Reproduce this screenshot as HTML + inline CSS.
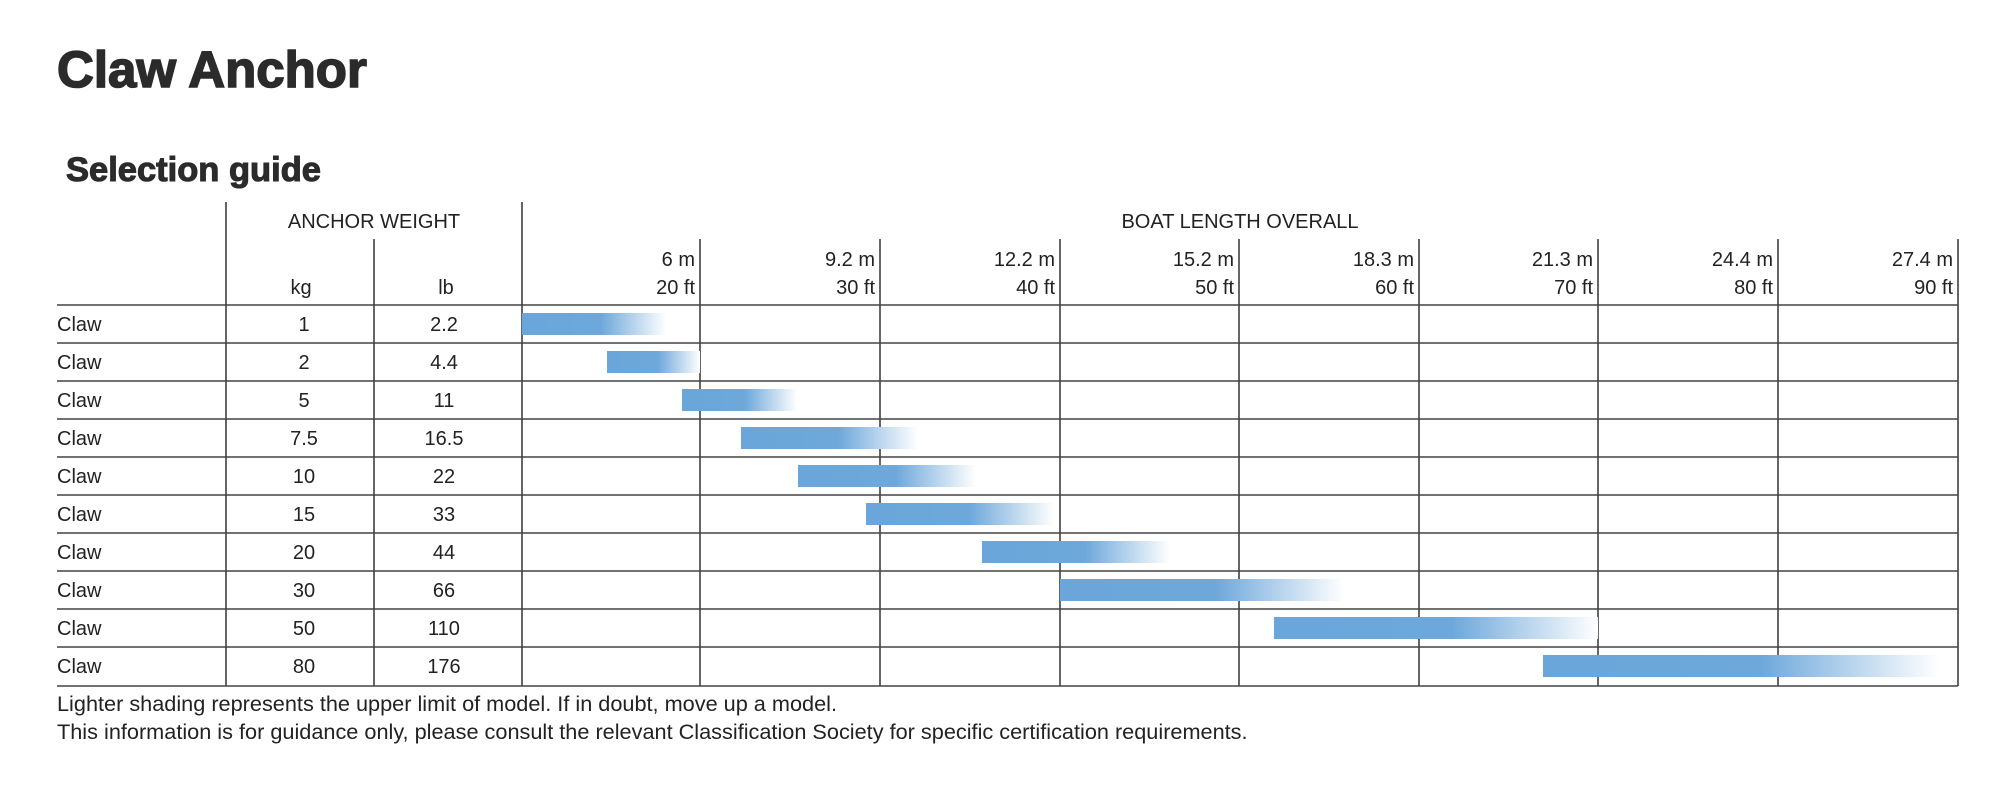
<!DOCTYPE html>
<html><head><meta charset="utf-8"><style>
html,body{margin:0;padding:0;background:#fff;}
svg{display:block;}
text{font-family:"Liberation Sans",Arial,sans-serif;fill:#222;}
</style></head><body>
<svg width="2000" height="799" xmlns="http://www.w3.org/2000/svg">
<defs>
<linearGradient id="g" x1="0" x2="1" y1="0" y2="0">
<stop offset="0" stop-color="#6aa6da"/><stop offset="0.55" stop-color="#6ea8db"/><stop offset="1" stop-color="#ffffff"/>
</linearGradient>
</defs>
<text x="57" y="87" font-size="51" font-weight="bold" style="fill:#2b2b2b;stroke:#2b2b2b;stroke-width:1.6">Claw Anchor</text>
<text x="66" y="181" font-size="34.5" font-weight="bold" style="fill:#2b2b2b;stroke:#2b2b2b;stroke-width:1.1">Selection guide</text>

<g stroke="#333" stroke-width="1.5">
<line x1="226" y1="202" x2="226" y2="686"/>
<line x1="522" y1="202" x2="522" y2="686"/>
<line x1="374" y1="239" x2="374" y2="686"/>
<line x1="700" y1="239" x2="700" y2="686"/>
<line x1="880" y1="239" x2="880" y2="686"/>
<line x1="1060" y1="239" x2="1060" y2="686"/>
<line x1="1239" y1="239" x2="1239" y2="686"/>
<line x1="1419" y1="239" x2="1419" y2="686"/>
<line x1="1598" y1="239" x2="1598" y2="686"/>
<line x1="1778" y1="239" x2="1778" y2="686"/>
<line x1="1958" y1="239" x2="1958" y2="686"/>
</g>
<g stroke="#444" stroke-width="1.6">
<line x1="57" y1="305" x2="1958" y2="305"/>
<line x1="57" y1="343" x2="1958" y2="343"/>
<line x1="57" y1="381" x2="1958" y2="381"/>
<line x1="57" y1="419" x2="1958" y2="419"/>
<line x1="57" y1="457" x2="1958" y2="457"/>
<line x1="57" y1="495" x2="1958" y2="495"/>
<line x1="57" y1="533" x2="1958" y2="533"/>
<line x1="57" y1="571" x2="1958" y2="571"/>
<line x1="57" y1="609" x2="1958" y2="609"/>
<line x1="57" y1="647" x2="1958" y2="647"/>
<line x1="57" y1="686" x2="1958" y2="686"/>
</g>

<g fill="url(#g)">
<rect x="522" y="313" width="144" height="22"/>
<rect x="607" y="351" width="93" height="22"/>
<rect x="682" y="389" width="115" height="22"/>
<rect x="741" y="427" width="177" height="22"/>
<rect x="798" y="465" width="178" height="22"/>
<rect x="866" y="503" width="188" height="22"/>
<rect x="982" y="541" width="188" height="22"/>
<rect x="1060" y="579" width="284" height="22"/>
<rect x="1274" y="617" width="324" height="22"/>
<rect x="1543" y="655" width="396" height="22"/>
</g>

<g font-size="20">
<text x="374" y="228" text-anchor="middle">ANCHOR WEIGHT</text>
<text x="1240" y="228" text-anchor="middle">BOAT LENGTH OVERALL</text>
<text x="301" y="294" text-anchor="middle">kg</text>
<text x="446" y="294" text-anchor="middle">lb</text>
</g>
<g font-size="20" text-anchor="end">
<text x="695" y="266">6 m</text><text x="695" y="294">20  ft</text>
<text x="875" y="266">9.2 m</text><text x="875" y="294">30  ft</text>
<text x="1055" y="266">12.2 m</text><text x="1055" y="294">40  ft</text>
<text x="1234" y="266">15.2 m</text><text x="1234" y="294">50  ft</text>
<text x="1414" y="266">18.3 m</text><text x="1414" y="294">60  ft</text>
<text x="1593" y="266">21.3 m</text><text x="1593" y="294">70  ft</text>
<text x="1773" y="266">24.4 m</text><text x="1773" y="294">80  ft</text>
<text x="1953" y="266">27.4 m</text><text x="1953" y="294">90  ft</text>
</g>
<g font-size="20">
<text x="57" y="331">Claw</text><text x="57" y="369">Claw</text><text x="57" y="407">Claw</text><text x="57" y="445">Claw</text><text x="57" y="483">Claw</text>
<text x="57" y="521">Claw</text><text x="57" y="559">Claw</text><text x="57" y="597">Claw</text><text x="57" y="635">Claw</text><text x="57" y="673">Claw</text>
</g>
<g font-size="20" text-anchor="middle">
<text x="304" y="331">1</text><text x="304" y="369">2</text><text x="304" y="407">5</text><text x="304" y="445">7.5</text><text x="304" y="483">10</text>
<text x="304" y="521">15</text><text x="304" y="559">20</text><text x="304" y="597">30</text><text x="304" y="635">50</text><text x="304" y="673">80</text>
<text x="444" y="331">2.2</text><text x="444" y="369">4.4</text><text x="444" y="407">11</text><text x="444" y="445">16.5</text><text x="444" y="483">22</text>
<text x="444" y="521">33</text><text x="444" y="559">44</text><text x="444" y="597">66</text><text x="444" y="635">110</text><text x="444" y="673">176</text>
</g>
<g font-size="21.7">
<text x="57" y="711">Lighter shading represents the upper limit of model. If in doubt, move up a model.</text>
<text x="57" y="739">This information is for guidance only, please consult the relevant Classification Society for specific certification requirements.</text>
</g>
</svg>
</body></html>
